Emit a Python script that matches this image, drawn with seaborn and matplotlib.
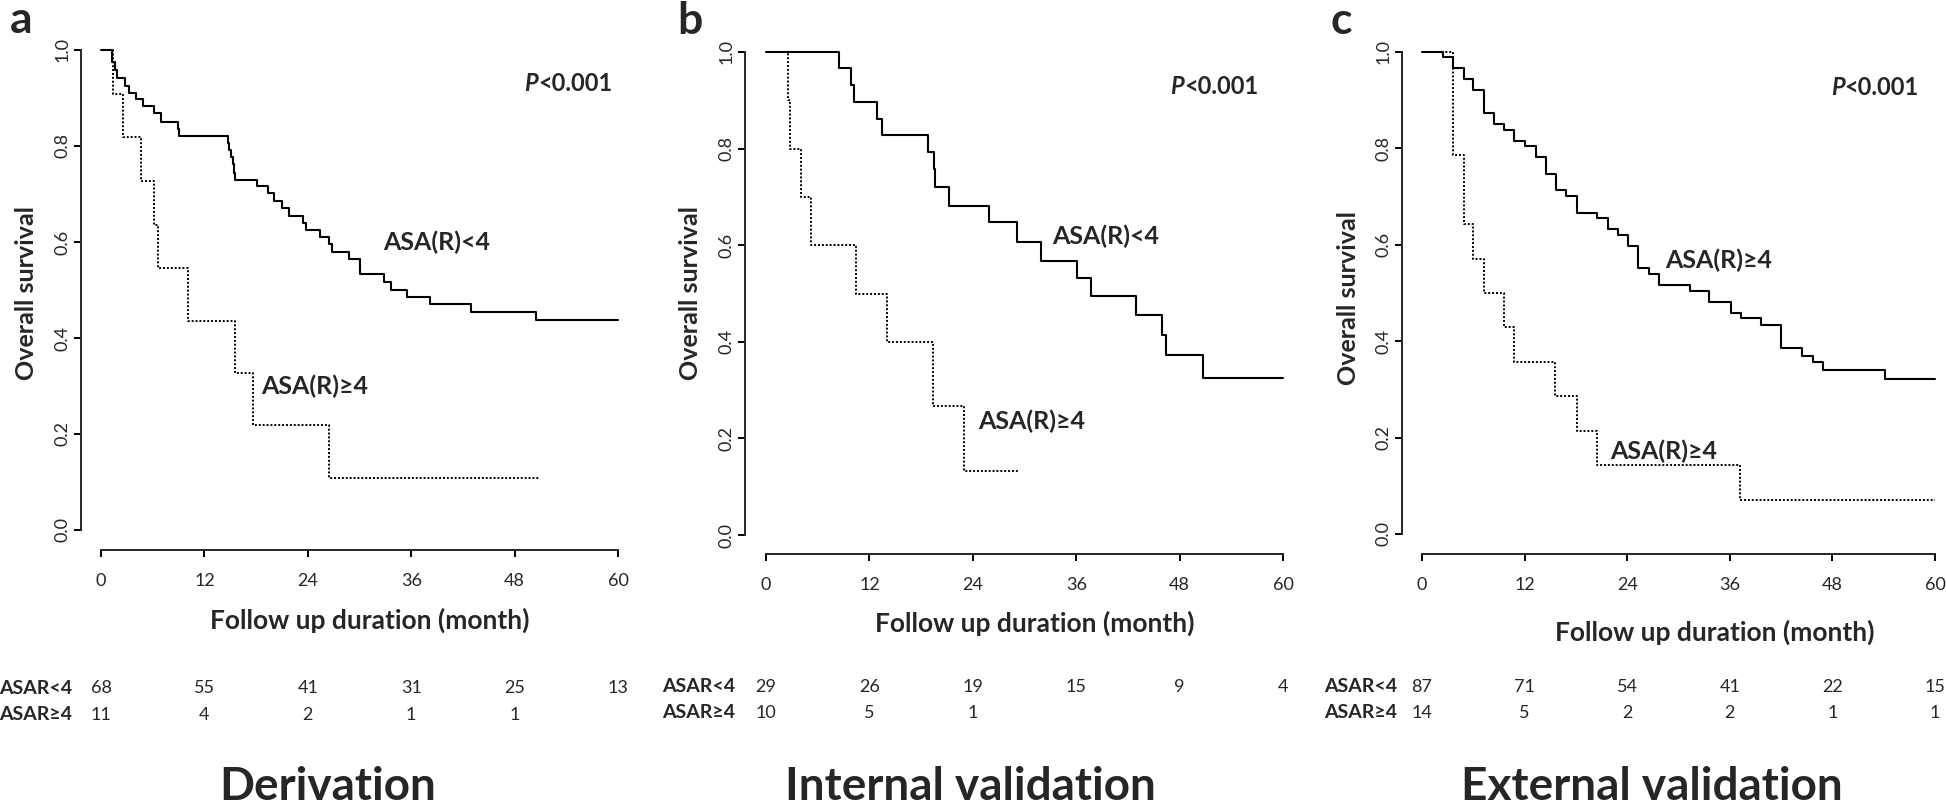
import matplotlib
matplotlib.use("Agg")
import matplotlib.pyplot as plt
import matplotlib.transforms as mtransforms
import seaborn as sns

# values
months = [0, 12, 24, 36, 48, 60]
surv_ticks = [0.0, 0.2, 0.4, 0.6, 0.8, 1.0]
titles = ["Derivation", "Internal validation", "External validation"]
letters = ["a", "b", "c"]

# a: derivation
deriv_lo_t = [0, 1.3, 1.6, 1.8, 2.8, 3.3, 4.1, 4.9, 6.2, 7.0, 8.9, 9.1, 14.7, 14.9, 15.1,
              15.3, 15.4, 15.6, 18.1, 19.4, 20.1, 21.0, 21.8, 23.5, 23.8, 25.4, 26.5,
              26.8, 28.8, 30.1, 32.9, 33.6, 35.5, 38.2, 42.9, 50.5]
deriv_lo_s = [1.0, 0.974, 0.959, 0.942, 0.926, 0.911, 0.897, 0.883, 0.868, 0.851, 0.835,
              0.821, 0.807, 0.792, 0.777, 0.762, 0.743, 0.730, 0.716, 0.703, 0.686, 0.671,
              0.655, 0.639, 0.625, 0.610, 0.595, 0.579, 0.564, 0.533, 0.517, 0.500, 0.486,
              0.470, 0.454, 0.437]
deriv_lo_end = 60
deriv_hi_t = [0, 1.45, 2.6, 4.6, 6.2, 6.6, 10.1, 15.6, 17.6, 26.5]
deriv_hi_s = [1.0, 0.909, 0.818, 0.727, 0.636, 0.545, 0.436, 0.327, 0.218, 0.109]
deriv_hi_end = 50.9
deriv_risk_lo = [68, 55, 41, 31, 25, 13]
deriv_risk_hi = [11, 4, 2, 1, 1]

# b: internal validation
int_lo_t = [0, 8.5, 9.9, 10.2, 12.9, 13.5, 18.8, 19.5, 19.6, 21.2, 25.9, 29.1, 31.9,
            36.1, 37.7, 42.9, 45.9, 46.4, 50.7]
int_lo_s = [1.0, 0.966, 0.931, 0.897, 0.862, 0.828, 0.793, 0.757, 0.721, 0.682, 0.647,
            0.607, 0.568, 0.532, 0.494, 0.456, 0.414, 0.373, 0.326]
int_lo_end = 60
int_hi_t = [0, 2.55, 2.75, 4.1, 5.2, 10.5, 14.1, 19.4, 23.0]
int_hi_s = [1.0, 0.9, 0.8, 0.7, 0.6, 0.5, 0.4, 0.267, 0.133]
int_hi_end = 29.2
int_risk_lo = [29, 26, 19, 15, 9, 4]
int_risk_hi = [10, 5, 1]

# c: external validation
ext_lo_t = [0, 2.4, 3.6, 4.9, 6.0, 7.3, 8.4, 9.6, 10.8, 12.0, 13.3, 14.5, 15.7, 16.9,
            18.1, 20.5, 21.7, 22.9, 24.1, 25.3, 26.5, 27.7, 31.3, 33.6, 36.1, 37.3, 39.7,
            42.0, 44.5, 45.7, 46.9, 54.1]
ext_lo_s = [1.0, 0.989, 0.966, 0.943, 0.921, 0.874, 0.851, 0.839, 0.816, 0.805, 0.782,
            0.747, 0.713, 0.701, 0.667, 0.655, 0.632, 0.621, 0.597, 0.552, 0.540, 0.516,
            0.505, 0.482, 0.458, 0.448, 0.434, 0.385, 0.370, 0.356, 0.340, 0.321]
ext_lo_end = 60
ext_hi_t = [0, 3.6, 4.9, 6.0, 7.3, 9.6, 10.8, 15.5, 18.1, 20.5, 37.2]
ext_hi_s = [1.0, 0.786, 0.643, 0.571, 0.500, 0.429, 0.357, 0.286, 0.214, 0.143, 0.071]
ext_hi_end = 60
ext_risk_lo = [87, 71, 54, 41, 22, 15]
ext_risk_hi = [14, 5, 2, 2, 1, 1]

curve_labels = [("ASA(R)<4", "ASA(R)\u22654"), ("ASA(R)<4", "ASA(R)\u22654"),
                ("ASA(R)\u22654", "ASA(R)\u22654")]

sns.set_style("ticks")
plt.rcParams["font.family"] = ["Lato", "DejaVu Sans"]

W, H = 1946, 809
fig = plt.figure(figsize=(W / 100, H / 100), dpi=100)


def fy(y):
    return 1 - y / H


# layout in pixels: axes box (x0, x1, ytop, ybottom), spine offsets, text spots
layout = [
    dict(box=(101, 618, 50, 530), off=(20, 20), ylab=(27, 293), xlab=(370, 620),
         rows=(688, 715), rowlab_x=72, title_x=328, letter=(10, 33),
         lab_lo=(32.7, 0.60), lab_hi=(18.6, 0.30), pval=(50.7, 0.931)),
    dict(box=(766, 1283, 52, 535), off=(21, 19), ylab=(691, 293), xlab=(1035, 623),
         rows=(687, 713), rowlab_x=735, title_x=970, letter=(677, 34),
         lab_lo=(33.2, 0.619), lab_hi=(24.6, 0.236), pval=(48.5, 0.928)),
    dict(box=(1422, 1935, 52, 534), off=(20, 20), ylab=(1348, 298), xlab=(1715, 632),
         rows=(687, 713), rowlab_x=1397, title_x=1652, letter=(1331, 34),
         lab_lo=(28.4, 0.568), lab_hi=(22.0, 0.172), pval=(49.4, 0.927)),
]

curves = [
    (deriv_lo_t, deriv_lo_s, deriv_lo_end, deriv_hi_t, deriv_hi_s, deriv_hi_end,
     deriv_risk_lo, deriv_risk_hi),
    (int_lo_t, int_lo_s, int_lo_end, int_hi_t, int_hi_s, int_hi_end,
     int_risk_lo, int_risk_hi),
    (ext_lo_t, ext_lo_s, ext_lo_end, ext_hi_t, ext_hi_s, ext_hi_end,
     ext_risk_lo, ext_risk_hi),
]

for i, (lay, cv) in enumerate(zip(layout, curves)):
    lo_t, lo_s, lo_end, hi_t, hi_s, hi_end, risk_lo, risk_hi = cv
    x0, x1, yt, yb = lay["box"]
    ax = fig.add_axes([x0 / W, fy(yb), (x1 - x0) / W, (yb - yt) / H])

    # step curves, last value carried to end of follow-up
    sns.lineplot(x=lo_t + [lo_end], y=lo_s + [lo_s[-1]], drawstyle="steps-post",
                 color="black", lw=1.5, estimator=None, sort=False, clip_on=False, ax=ax)
    sns.lineplot(x=hi_t + [hi_end], y=hi_s + [hi_s[-1]], drawstyle="steps-post",
                 color="black", lw=1.4, linestyle=(0, (1, 1)), estimator=None,
                 sort=False, clip_on=False, ax=ax)

    ax.set_xlim(0, 60)
    ax.set_ylim(0, 1)
    ax.set_xlabel("")
    ax.set_ylabel("")
    for s in ["top", "right"]:
        ax.spines[s].set_visible(False)
    ax.spines["left"].set_position(("outward", lay["off"][0] * 0.72))
    ax.spines["bottom"].set_position(("outward", lay["off"][1] * 0.72))
    for s in ["left", "bottom"]:
        ax.spines[s].set_linewidth(1.4)

    ax.set_xticks(months)
    ax.set_xticklabels([str(m) for m in months])
    ax.set_yticks(surv_ticks)
    ax.set_yticklabels([f"{v:.1f}" for v in surv_ticks], rotation=90,
                       va="center", ha="center")
    ax.tick_params(axis="both", length=5, width=1.4, labelsize=13, color="black")
    ax.tick_params(axis="x", pad=11.5)
    ax.tick_params(axis="y", pad=8)

    lab_lo, lab_hi = curve_labels[i]
    ax.text(*lay["lab_lo"], lab_lo, ha="left", va="center", fontsize=18, weight="bold")
    ax.text(*lay["lab_hi"], lab_hi, ha="left", va="center", fontsize=18, weight="bold")
    ax.text(*lay["pval"], "P", ha="right", va="center", fontsize=17, weight="bold",
            style="italic")
    ax.text(*lay["pval"], "<0.001", ha="left", va="center", fontsize=17, weight="bold")

    # number-at-risk table under each panel
    trans = mtransforms.blended_transform_factory(ax.transData, fig.transFigure)
    r1, r2 = lay["rows"]
    for m, n in zip(months, risk_lo):
        ax.text(m, fy(r1), str(n), transform=trans, ha="center", va="center", fontsize=13)
    for m, n in zip(months, risk_hi):
        ax.text(m, fy(r2), str(n), transform=trans, ha="center", va="center", fontsize=13)
    fig.text(lay["rowlab_x"] / W, fy(r1), "ASAR<4", ha="right", va="center",
             fontsize=14, weight="bold")
    fig.text(lay["rowlab_x"] / W, fy(r2), "ASAR\u22654", ha="right", va="center",
             fontsize=14, weight="bold")

    fig.text(lay["ylab"][0] / W, fy(lay["ylab"][1]), "Overall survival", rotation=90,
             ha="center", va="center", fontsize=18, weight="bold")
    fig.text(lay["xlab"][0] / W, fy(lay["xlab"][1]), "Follow up duration (month)",
             ha="center", va="center", fontsize=19, weight="bold")
    fig.text(lay["title_x"] / W, fy(808), titles[i], ha="center", va="bottom",
             fontsize=33, weight="bold")
    fig.text(lay["letter"][0] / W, fy(lay["letter"][1]), letters[i], ha="left",
             va="baseline", fontsize=32, weight="bold")

fig.savefig("out.png", dpi=100, facecolor="white")
